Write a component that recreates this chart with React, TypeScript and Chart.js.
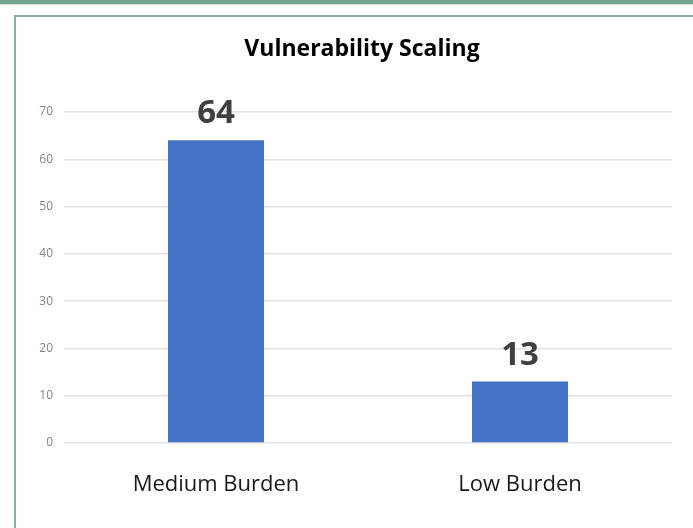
import React, { useEffect, useRef } from "react";
import { Chart, registerables } from "chart.js";

Chart.register(...registerables);

const categories = ["Medium Burden", "Low Burden"];
const values = [64, 13];
const yTicks = [0, 10, 20, 30, 40, 50, 60, 70];
const titleText = "Vulnerability Scaling";

const FONT = "'Open Sans', 'DejaVu Sans', sans-serif";

const valueLabelPlugin = {
  id: "valueLabels",
  afterDatasetsDraw(chart: any) {
    const ctx = chart.ctx;
    const meta = chart.getDatasetMeta(0);
    ctx.save();
    ctx.font = `bold 33px ${FONT}`;
    ctx.fillStyle = "#404040";
    ctx.textAlign = "center";
    ctx.textBaseline = "alphabetic";
    meta.data.forEach((bar: any, i: number) => {
      ctx.fillText(String(values[i]), bar.x, bar.y - 17);
    });
    ctx.restore();
  },
};

const titlePlugin = {
  id: "chartTitle",
  afterDraw(chart: any) {
    const ctx = chart.ctx;
    const area = chart.chartArea;
    ctx.save();
    ctx.font = `bold 23px ${FONT}`;
    ctx.fillStyle = "#000000";
    ctx.textAlign = "center";
    ctx.textBaseline = "alphabetic";
    ctx.fillText(titleText, (area.left + area.right) / 2 - 6, 39);
    ctx.restore();
  },
};

export default function App() {
  const canvasRef = useRef<HTMLCanvasElement | null>(null);

  useEffect(() => {
    document.body.style.margin = "0";
    const canvas = canvasRef.current;
    if (!canvas) return;
    const chart = new Chart(canvas, {
      type: "bar",
      data: {
        labels: categories,
        datasets: [
          {
            data: values,
            backgroundColor: "#4472c4",
            borderWidth: 0,
            barPercentage: 0.316,
            categoryPercentage: 1,
          },
        ],
      },
      options: {
        animation: false,
        responsive: false,
        maintainAspectRatio: false,
        layout: { padding: { left: 0, right: 21, top: 95, bottom: 0 } },
        plugins: {
          legend: { display: false },
          tooltip: { enabled: false },
          title: { display: false },
        },
        scales: {
          x: {
            grid: { display: false },
            border: { display: false },
            ticks: {
              color: "#1a1a1a",
              font: { family: FONT, size: 22 },
              padding: 21,
            },
            afterFit: (s: any) => {
              s.height = 85;
            },
          },
          y: {
            min: 0,
            max: 70,
            afterBuildTicks: (s: any) => {
              s.ticks = yTicks.map((v) => ({ value: v }));
            },
            grid: { color: "#e2e2e2", lineWidth: 1.5, drawTicks: false },
            border: { display: false },
            ticks: {
              color: "#858585",
              font: { family: FONT, size: 12 },
              padding: 11,
            },
            afterFit: (s: any) => {
              s.width = 48;
            },
          },
        },
      },
      plugins: [valueLabelPlugin, titlePlugin],
    });
    return () => chart.destroy();
  }, []);

  return (
    <div
      style={{
        position: "fixed",
        left: 0,
        top: 0,
        width: 693,
        height: 528,
        background: "#ffffff",
        overflow: "hidden",
      }}
    >
      <div
        style={{
          position: "absolute",
          left: 0,
          top: 0,
          width: 693,
          height: 4,
          background: "#6fa38c",
        }}
      />
      <div
        style={{
          position: "absolute",
          left: 0,
          top: 4,
          width: 693,
          height: 1,
          background: "#cfe0d8",
        }}
      />
      <div
        style={{
          position: "absolute",
          left: 14,
          top: 15,
          width: 700,
          height: 540,
          borderTop: "2px solid #86b0a0",
          borderLeft: "2px solid #86b0a0",
          boxSizing: "border-box",
        }}
      />
      <canvas
        ref={canvasRef}
        width={677}
        height={511}
        style={{ position: "absolute", left: 16, top: 17, width: 677, height: 511 }}
      />
    </div>
  );
}
